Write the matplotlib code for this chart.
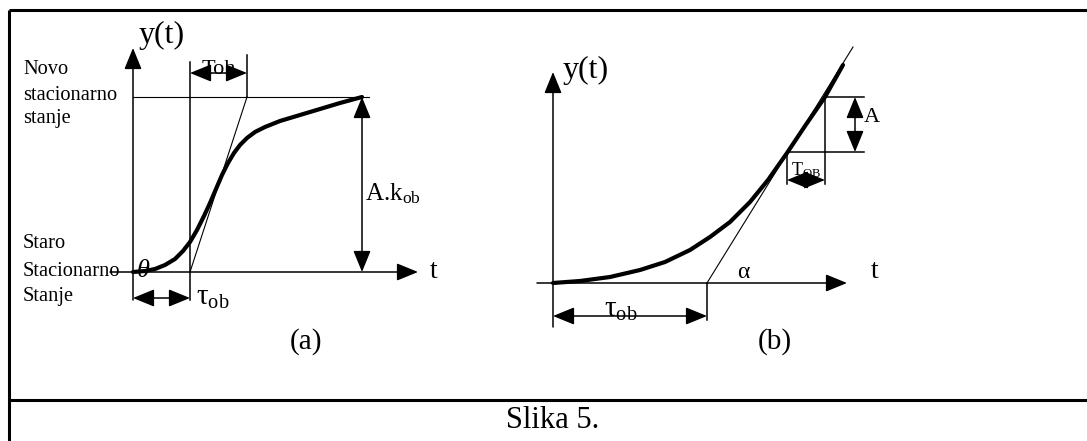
import matplotlib
matplotlib.use('Agg')
import matplotlib.pyplot as plt

plt.rcParams['font.family'] = ['Liberation Serif', 'DejaVu Serif']
plt.rcParams['mathtext.fontset'] = 'custom'
plt.rcParams['mathtext.rm'] = 'Liberation Serif'
plt.rcParams['mathtext.it'] = 'Liberation Serif:italic'

# step response (a) - S shaped curve, picture coordinates (px)
curve_a_x = [133, 145, 155, 165, 175, 183, 190, 197, 204, 210, 216, 222, 228,
             234, 240, 247, 255, 265, 280, 300, 320, 340, 362]
curve_a_y = [272, 271, 269, 265, 259, 251, 242, 230, 216, 203, 189, 175, 163,
             153, 145, 138, 132, 127, 121, 115, 109, 103, 97]
tangent_a_x = [190, 247]
tangent_a_y = [272, 97]

# ramp response (b)
curve_b_x = [553, 580, 610, 640, 665, 690, 710, 730, 750, 768, 787, 805, 825, 843]
curve_b_y = [283, 281, 277, 270, 262, 250, 237, 222, 202, 180, 153, 126, 97, 65]
tangent_b_x = [707, 853]
tangent_b_y = [283, 47]

fig = plt.figure(figsize=(10.87, 4.41), dpi=100)
ax = fig.add_axes([0, 0, 1, 1])
ax.set_xlim(0, 1087)
ax.set_ylim(441, 0)
ax.axis('off')

k = 'black'
thin = 0.8


def arrow(x0, y0, x1, y1, style='-|>', lw=1.1):
    ax.annotate('', xy=(x1, y1), xytext=(x0, y0),
                arrowprops=dict(arrowstyle=style + ',head_length=1.1,head_width=0.45',
                                mutation_scale=12, color=k, lw=lw,
                                shrinkA=0, shrinkB=0))


# frame
ax.plot([9, 1087], [10, 10], color=k, lw=2.2, solid_capstyle='butt')
ax.plot([9, 9], [10, 441], color=k, lw=2.2, solid_capstyle='butt')
ax.plot([9, 1087], [400, 400], color=k, lw=2.2, solid_capstyle='butt')

# ---------------- (a) ----------------
arrow(133, 300, 133, 48)            # y axis
arrow(110, 272, 418, 272)           # t axis
ax.plot([190, 190], [62, 300], color=k, lw=1.1)
ax.plot([247, 247], [55, 97], color=k, lw=1.1)
ax.plot([133, 369], [97, 97], color=k, lw=thin)
ax.plot(tangent_a_x, tangent_a_y, color=k, lw=thin)
ax.plot(curve_a_x, curve_a_y, color=k, lw=3.0, solid_capstyle='round')
arrow(190, 73, 247, 73, style='<|-|>')
arrow(362, 97, 362, 272, style='<|-|>')
arrow(133, 298, 190, 298, style='<|-|>')

ax.text(139, 35, 'y(t)', fontsize=23, va='center', ha='left')
ax.text(202, 70, 'Toh', fontsize=16, va='center', ha='left')
ax.text(365, 194, r'A.k$_{\mathrm{ob}}$', fontsize=18, va='center', ha='left')
ax.text(137, 271, 'θ', fontsize=19, style='italic', va='center', ha='left')
ax.text(196, 298, r'τ$_{\mathrm{ob}}$', fontsize=21, va='center', ha='left')
ax.text(23, 70, 'Novo', fontsize=14.7, va='center', ha='left')
ax.text(23, 96, 'stacionarno', fontsize=14.7, va='center', ha='left')
ax.text(23, 119, 'stanje', fontsize=14.7, va='center', ha='left')
ax.text(23, 243, 'Staro', fontsize=14.7, va='center', ha='left')
ax.text(23, 271, 'Stacionarno', fontsize=14.7, va='center', ha='left')
ax.text(23, 297, 'Stanje', fontsize=14.7, va='center', ha='left')
ax.text(306, 342, '(a)', fontsize=21, va='center', ha='center')

# ---------------- (b) ----------------
arrow(553, 327, 553, 72)            # y axis
arrow(537, 283, 847, 283)           # t axis
ax.plot([707, 707], [283, 320], color=k, lw=1.1)
ax.plot(tangent_b_x, tangent_b_y, color=k, lw=thin)
ax.plot(curve_b_x, curve_b_y, color=k, lw=3.0, solid_capstyle='round')
ax.plot([825, 864], [97, 97], color=k, lw=1.1)
ax.plot([787, 864], [152, 152], color=k, lw=1.1)
ax.plot([825, 825], [97, 184], color=k, lw=1.1)
ax.plot([787, 787], [152, 184], color=k, lw=1.1)
arrow(855, 97, 855, 152, style='<|-|>')
arrow(787, 180, 825, 180, style='<|-|>')
arrow(553, 316, 707, 316, style='<|-|>')

ax.text(563, 70, 'y(t)', fontsize=23, va='center', ha='left')
ax.text(864, 118, 'A', fontsize=16, va='center', ha='left')
ax.text(791, 170, r'T$_{\mathrm{OB}}$', fontsize=13, va='center', ha='left')
ax.text(604, 310, r'τ$_{\mathrm{ob}}$', fontsize=21, va='center', ha='left')
ax.text(743, 272, 'α', fontsize=17, va='center', ha='center')
ax.text(875, 272, 't', fontsize=20, va='center', ha='center')
ax.text(434, 272, 't', fontsize=20, va='center', ha='center')
ax.text(775, 342, '(b)', fontsize=21, va='center', ha='center')

ax.text(553, 421, 'Slika 5.', fontsize=22, va='center', ha='center')

fig.savefig('out.png', dpi=100)
